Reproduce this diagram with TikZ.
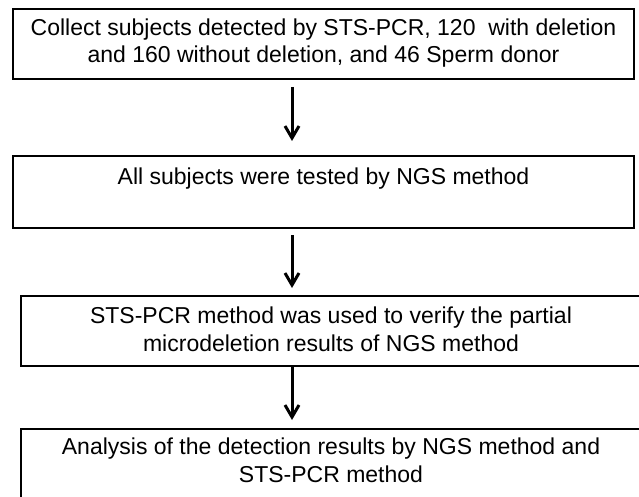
\documentclass[tikz,border=0pt]{standalone}
\usepackage{fontspec}
\setmainfont{Liberation Sans}
\usetikzlibrary{arrows.meta}
\begin{document}
\begin{tikzpicture}[x=1pt,y=-1pt,
  box/.style={draw=black, line width=2.5pt, rectangle, inner sep=0pt, outer sep=0pt},
  lbl/.style={font=\fontsize{23}{27.5}\selectfont, align=center, anchor=base, inner sep=0pt},
  arr/.style={line width=3pt, -{Straight Barb[length=12pt,width=14pt]}}]
\useasboundingbox (0,0) rectangle (639,497);
\clip (0,0) rectangle (639,497);

% process boxes
\node[box, minimum width=621pt, minimum height=70pt] (b1) at (323.5,44) {};
\node[box, minimum width=621pt, minimum height=72pt] (b2) at (323.5,192) {};
\node[box, minimum width=624pt, minimum height=70pt] (b3) at (333,331) {};
\node[box, minimum width=624pt, minimum height=81pt] (b4) at (333,469.5) {};

% box texts (base anchor sits on the last line)
\node[lbl] (t1) at (323.5,63) {Collect subjects detected by STS-PCR, 120\ \ with deletion\\and 160 without deletion, and 46 Sperm donor};
\node[lbl] (t2) at (323.5,184) {All subjects were tested by NGS method};
\node[lbl] (t3) at (331,351) {STS-PCR method was used to verify the partial\\microdeletion results of NGS method};
\node[lbl] (t4) at (331,482) {Analysis of the detection results by NGS method and\\STS-PCR method};

% flow arrows
\coordinate (ax) at (292,0);
\draw[arr, shorten <=8pt, shorten >=15pt] (b1.south -| ax) -- (b2.north -| ax);
\draw[arr, shorten <=7pt, shorten >=8pt] (b2.south -| ax) -- (b3.north -| ax);
\draw[arr, shorten >=9pt] (b3.south -| ax) -- (b4.north -| ax);
\end{tikzpicture}
\end{document}
